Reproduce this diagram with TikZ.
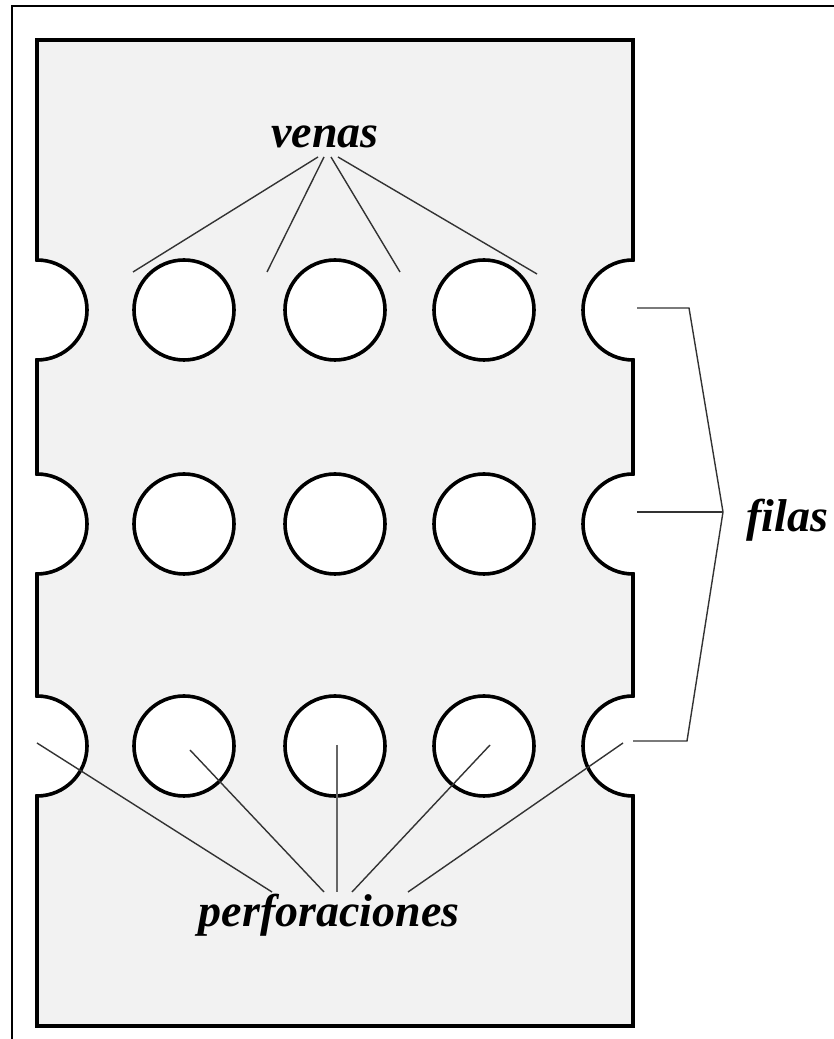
\documentclass[tikz,border=0pt]{standalone}
\usepackage{fontspec}
\setmainfont{Liberation Serif}
\definecolor{plategray}{HTML}{F2F2F2}
\definecolor{leader}{HTML}{333333}
\begin{document}
\begin{tikzpicture}[x=1pt,y=1pt,
  plate/.style={draw=black,line width=3.6pt,fill=plategray,line join=miter},
  hole/.style={draw=black,line width=3.6pt,fill=white},
  leaderline/.style={draw=leader,line width=1.4pt},
  lbl/.style={inner sep=0pt,anchor=base,font=\fontsize{46}{50}\selectfont\bfseries\itshape}]
\useasboundingbox (0,0) rectangle (834,1039);
\fill[white] (0,0) rectangle (834,1039);
% frame (top and left edges)
\draw[line width=1.6pt] (12,0) -- (12,1033) -- (834,1033);
% plate with notches
\path[plate] (37,999) -- (633,999) -- (633,779) arc[start angle=90,end angle=270,radius=50]
  -- (633,565) arc[start angle=90,end angle=270,radius=50]
  -- (633,343) arc[start angle=90,end angle=270,radius=50]
  -- (633,13) -- (37,13) -- (37,243) arc[start angle=-90,end angle=90,radius=50]
  -- (37,465) arc[start angle=-90,end angle=90,radius=50]
  -- (37,679) arc[start angle=-90,end angle=90,radius=50] -- cycle;
% holes
\foreach \r/\yy in {a/729,b/515,c/293}{
  \foreach \c/\xx in {1/184,2/335,3/484}{
    \node[hole,circle,minimum size=100pt,inner sep=0pt] (h\r\c) at (\xx,\yy) {};
  }
}
% labels
\node[lbl] (venas) at (325,891) {venas};
\node[lbl] (filas) at (787,507) {filas};
\node[lbl] (perf) at (329,112) {perforaciones};
% venas leaders
\coordinate (v0) at (318,882);
\coordinate (v1) at (324,882);
\coordinate (v2) at (331,882);
\coordinate (v3) at (338,882);
\coordinate (ve0) at (133,767);
\coordinate (ve1) at (267,767);
\coordinate (ve2) at (400,767);
\coordinate (ve3) at (537,765);
\draw[leaderline] (v0) -- (ve0);
\draw[leaderline] (v1) -- (ve1);
\draw[leaderline] (v2) -- (ve2);
\draw[leaderline] (v3) -- (ve3);
% filas bracket
\coordinate (f1) at (637,731);
\coordinate (f1b) at (689,731);
\coordinate (fj) at (723,527);
\coordinate (f2) at (637,527);
\coordinate (f3b) at (687,298);
\coordinate (f3) at (633,298);
\draw[leaderline] (f1) -- (f1b) -- (fj) -- (f3b) -- (f3);
\draw[leaderline] (f2) -- (fj);
% perforaciones leaders
\coordinate (p0) at (37,296);
\coordinate (p1) at (190,289);
\coordinate (p2) at (337,294);
\coordinate (p3) at (490,294);
\coordinate (p4) at (623,296);
\coordinate (pe0) at (272,147);
\coordinate (pe1) at (324,147);
\coordinate (pe2) at (337,147);
\coordinate (pe3) at (352,147);
\coordinate (pe4) at (408,147);
\draw[leaderline] (p0) -- (pe0);
\draw[leaderline] (p1) -- (pe1);
\draw[leaderline,line width=2pt,draw=black!60] (p2) -- (pe2);
\draw[leaderline] (p3) -- (pe3);
\draw[leaderline] (p4) -- (pe4);
\end{tikzpicture}
\end{document}
